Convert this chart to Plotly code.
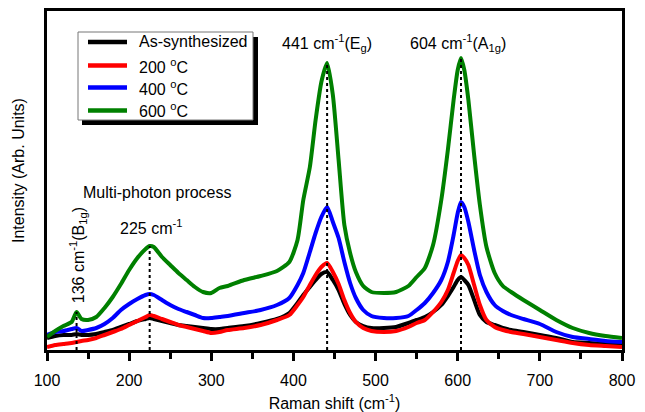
import plotly.graph_objects as go

# Raman shift (cm^-1)
shift = [100, 110, 120, 130, 136, 142, 150, 160, 170, 180, 190, 200, 210, 220, 225, 230,
         240, 250, 260, 270, 280, 290, 300, 310, 320, 340, 360, 380, 395, 405, 412, 420,
         427, 434, 441, 448, 455, 462, 469, 476, 485, 495, 510, 525, 540, 550, 560, 570,
         580, 588, 595, 600, 604, 608, 613, 620, 627, 635, 645, 655, 665, 680, 700, 720,
         740, 760, 780, 800]

as_synth = [12, 14, 15, 15, 16, 15, 15, 16, 18, 20, 23, 26, 29, 31, 32, 31,
            29, 27, 25, 24, 23, 22, 21, 21, 22, 24, 27, 31, 37, 47, 55, 63,
            70, 76, 78, 70, 60, 46, 35, 28, 24, 22, 22, 23, 27, 30, 33, 38,
            45, 54, 63, 70, 73, 70, 65, 50, 35, 28, 25, 22, 20, 18, 15, 12,
            8, 7, 6, 5]

t200 = [3, 5, 6, 7, 8, 9, 10, 12, 15, 18, 21, 25, 29, 33, 35, 34,
        31, 28, 25, 23, 21, 19, 17, 18, 20, 22, 25, 30, 35, 45, 53, 65,
        75, 83, 87, 78, 66, 50, 37, 28, 22, 19, 18, 19, 23, 27, 30, 38,
        48, 60, 77, 89, 95, 92, 85, 65, 45, 30, 23, 20, 18, 16, 13, 10,
        7, 5, 4, 3]

t400 = [15, 18, 19, 21, 22, 19, 20, 22, 26, 32, 40, 46, 51, 55, 56, 55,
        50, 45, 41, 38, 35, 32, 32, 33, 34, 37, 40, 45, 52, 65, 77, 98,
        117, 133, 143, 128, 112, 88, 67, 52, 40, 34, 32, 32, 34, 40, 47, 57,
        70, 88, 115, 137, 148, 143, 128, 100, 75, 58, 45, 39, 35, 31, 26, 18,
        13, 11, 9, 8]

t600 = [13, 19, 24, 28, 38, 31, 30, 33, 42, 53, 66, 80, 92, 101, 104, 103,
        93, 85, 77, 70, 63, 58, 57, 62, 64, 70, 74, 79, 88, 110, 150, 183,
        230, 268, 287, 255, 190, 125, 97, 78, 64, 58, 57, 58, 64, 73, 82, 105,
        150, 200, 250, 280, 292, 280, 250, 195, 145, 103, 77, 64, 58, 50, 40, 30,
        22, 17, 14, 12]

series_names = ["As-synthesized", "200 <sup>o</sup>C", "400 <sup>o</sup>C", "600 <sup>o</sup>C"]
series_vals = [as_synth, t200, t400, t600]
series_colors = ["#000000", "#ff0000", "#0000ff", "#008000"]

# marked peaks: position and height of the dotted guide (top curve)
peak_pos = [136, 225, 441, 604]
peak_top = [38, 104, 287, 292]

FONT = "Arial, Liberation Sans, sans-serif"

fig = go.Figure()
for name, vals, col in zip(series_names, series_vals, series_colors):
    fig.add_trace(go.Scatter(x=shift, y=vals, mode="lines", name=name, showlegend=False,
                             line=dict(color=col, width=4, shape="spline", smoothing=0.6)))

for p, top in zip(peak_pos, peak_top):
    fig.add_shape(type="line", x0=p, x1=p, y0=0, y1=top, xref="x", yref="y",
                  line=dict(color="black", width=2, dash="dot"), layer="above")

# plot-area pixel geometry helpers (paper coords)
L, R, T, B = 47, 622, 11, 350
W, H = R - L, B - T
def px(xp): return (xp - L) / W
def py(yp): return (B - yp) / H

# legend box with drop shadow
fig.add_shape(type="rect", xref="paper", yref="paper",
              x0=px(82), x1=px(258), y0=py(125), y1=py(37),
              fillcolor="black", line=dict(width=0), layer="above")
fig.add_shape(type="rect", xref="paper", yref="paper",
              x0=px(78), x1=px(253), y0=py(120), y1=py(32),
              fillcolor="white", line=dict(color="#777777", width=1), layer="above")
row_y = [42, 65.5, 87.5, 110.5]
for name, col, ry in zip(series_names, series_colors, row_y):
    fig.add_shape(type="line", xref="paper", yref="paper",
                  x0=px(88), x1=px(127), y0=py(ry), y1=py(ry),
                  line=dict(color=col, width=4.5), layer="above")
    fig.add_annotation(xref="paper", yref="paper", x=px(137), y=py(ry),
                       xanchor="left", yanchor="middle", showarrow=False, text=name,
                       font=dict(family=FONT, size=16, color="black"))

ann = [
    dict(x=441, y=307, text="441 cm<sup>-1</sup>(E<sub>g</sub>)"),
    dict(x=600, y=307, text="604 cm<sup>-1</sup>(A<sub>1g</sub>)"),
    dict(x=227, y=123, text="225 cm<sup>-1</sup>"),
    dict(x=234, y=158, text="Multi-photon process"),
    dict(x=138, y=95, text="136 cm<sup>-1</sup>(B<sub>1g</sub>)", textangle=-90),
]
for a in ann:
    fig.add_annotation(xref="x", yref="y", showarrow=False,
                       font=dict(family=FONT, size=16, color="black"), **a)

# y-axis title
fig.add_annotation(xref="paper", yref="paper", x=px(18), y=py(171),
                   text="Intensity (Arb. Units)", textangle=-90, showarrow=False,
                   xanchor="center", yanchor="middle",
                   font=dict(family=FONT, size=16, color="black"))

fig.update_layout(
    width=645, height=412,
    margin=dict(l=L, r=645 - R, t=T, b=412 - B, autoexpand=False),
    paper_bgcolor="white", plot_bgcolor="white",
    font=dict(family=FONT, size=16, color="black"),
    showlegend=False,
    xaxis=dict(range=[100, 800], tickvals=[100, 200, 300, 400, 500, 600, 700, 800],
               ticks="outside", ticklen=8, tickwidth=3, tickcolor="black",
               ticklabelstandoff=6, automargin=False,
               minor=dict(dtick=50, tick0=0, ticks="outside", ticklen=6, tickwidth=3, tickcolor="black"),
               showline=True, linewidth=3, linecolor="black", mirror=True,
               showgrid=False, zeroline=False,
               title=dict(text="Raman shift (cm<sup>-1</sup>)", standoff=10,
                          font=dict(family=FONT, size=16))),
    yaxis=dict(range=[0, 339], showticklabels=False, ticks="", automargin=False,
               showline=True, linewidth=3, linecolor="black", mirror=True,
               showgrid=False, zeroline=False),
)

fig.write_html("out.html")
